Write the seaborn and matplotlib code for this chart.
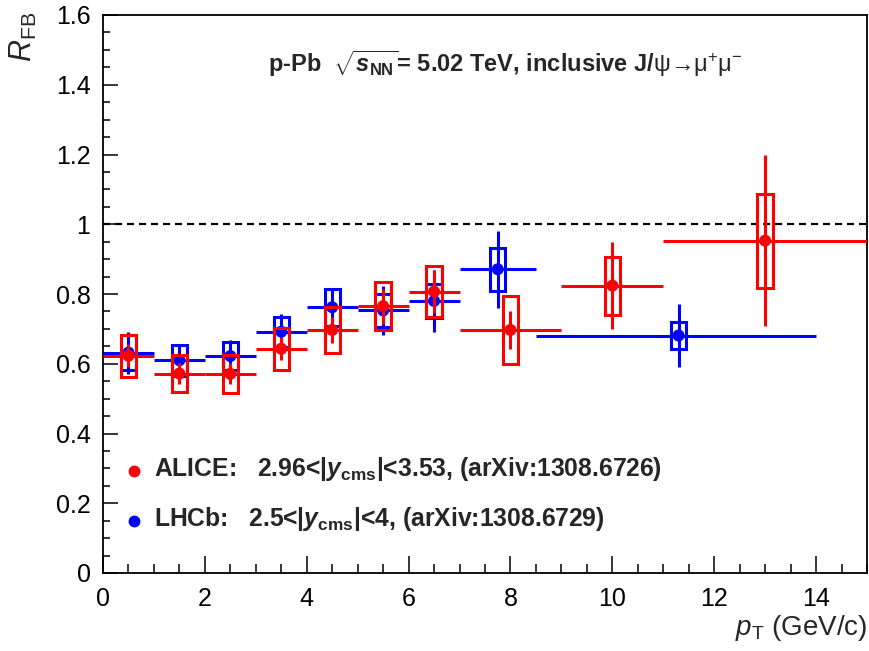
import numpy as np
import pandas as pd
import matplotlib
matplotlib.use("Agg")
import matplotlib.pyplot as plt
from matplotlib.patches import Rectangle
from matplotlib.lines import Line2D
from matplotlib.ticker import MultipleLocator
import seaborn as sns

# ALICE forward/backward ratio, 2.96<|y_cms|<3.53
alice_pt = [0.5, 1.5, 2.5, 3.5, 4.5, 5.5, 6.5, 8.0, 10.0, 13.0]
alice_lo = [0, 1, 2, 3, 4, 5, 6, 7, 9, 11]
alice_hi = [1, 2, 3, 4, 5, 6, 7, 9, 11, 15]
alice_rfb = [0.623, 0.572, 0.571, 0.643, 0.697, 0.765, 0.807, 0.697, 0.824, 0.953]
alice_stat = [0.033, 0.030, 0.030, 0.033, 0.037, 0.050, 0.062, 0.055, 0.124, 0.245]
alice_syst = [0.060, 0.054, 0.054, 0.060, 0.065, 0.068, 0.074, 0.097, 0.083, 0.135]

# LHCb forward/backward ratio, 2.5<|y_cms|<4
lhcb_pt = [0.5, 1.5, 2.5, 3.5, 4.5, 5.5, 6.5, 7.75, 11.3]
lhcb_lo = [0, 1, 2, 3, 4, 5, 6, 7, 8.5]
lhcb_hi = [1, 2, 3, 4, 5, 6, 7, 8.5, 14]
lhcb_rfb = [0.632, 0.610, 0.622, 0.692, 0.762, 0.753, 0.780, 0.871, 0.681]
lhcb_stat = [0.060, 0.040, 0.045, 0.050, 0.055, 0.070, 0.090, 0.110, 0.090]
lhcb_syst = [0.050, 0.045, 0.040, 0.043, 0.053, 0.047, 0.050, 0.061, 0.040]

x_ticks = [0, 2, 4, 6, 8, 10, 12, 14]
y_ticks = [0, 0.2, 0.4, 0.6, 0.8, 1.0, 1.2, 1.4, 1.6]
y_tick_labels = ["0", "0.2", "0.4", "0.6", "0.8", "1", "1.2", "1.4", "1.6"]

sns.set_theme(style="white")
plt.rcParams["font.family"] = ["Liberation Sans", "DejaVu Sans"]
plt.rcParams["mathtext.fontset"] = "custom"
plt.rcParams["mathtext.rm"] = "Liberation Sans"
plt.rcParams["mathtext.it"] = "Liberation Sans:italic"
plt.rcParams["mathtext.bf"] = "Liberation Sans:bold"
plt.rcParams["mathtext.bfit"] = "Liberation Sans:bold:italic"

fig = plt.figure(figsize=(8.69, 6.51), dpi=100)
ax = fig.add_axes([103 / 869, 1 - 573 / 651, 764 / 869, (573 - 15) / 651])

box_hw = 0.15


def draw_series(pt, lo, hi, val, stat, syst, color, z):
    pt = np.asarray(pt)
    val = np.asarray(val)
    xerr = [pt - np.asarray(lo), np.asarray(hi) - pt]
    ax.errorbar(pt, val, xerr=xerr, yerr=stat, fmt="none", ecolor=color,
                elinewidth=2.2, capsize=0, zorder=z)
    for x, y, s in zip(pt, val, syst):
        ax.add_patch(Rectangle((x - box_hw, y - s), 2 * box_hw, 2 * s,
                               fill=False, edgecolor=color, lw=2.2, zorder=z + 0.5))


draw_series(lhcb_pt, lhcb_lo, lhcb_hi, lhcb_rfb, lhcb_stat, lhcb_syst, "blue", 2)
draw_series(alice_pt, alice_lo, alice_hi, alice_rfb, alice_stat, alice_syst, "red", 4)

points = pd.concat([
    pd.DataFrame({"pt": lhcb_pt, "rfb": lhcb_rfb, "exp": "LHCb"}),
    pd.DataFrame({"pt": alice_pt, "rfb": alice_rfb, "exp": "ALICE"}),
])
for name, z in (("LHCb", 3), ("ALICE", 5)):
    sns.scatterplot(data=points[points["exp"] == name], x="pt", y="rfb",
                    color={"LHCb": "blue", "ALICE": "red"}[name], s=75,
                    edgecolor="none", ax=ax, zorder=z, legend=False)

ax.axhline(1.0, color="black", lw=1.6, ls=(0, (3.2, 2.2)), zorder=1)

ax.set_xlim(0, 15)
ax.set_ylim(0, 1.6)
ax.set_xticks(x_ticks)
ax.set_yticks(y_ticks)
ax.set_yticklabels(y_tick_labels)
ax.xaxis.set_minor_locator(MultipleLocator(0.5))
ax.yaxis.set_minor_locator(MultipleLocator(0.05))
ax.tick_params(axis="both", which="both", direction="in", colors="black",
               bottom=True, left=True, top=False, right=False)
ax.tick_params(axis="x", which="major", length=12, width=1.1, labelsize=18, pad=10)
ax.tick_params(axis="x", which="minor", length=6.5, width=1.1)
ax.tick_params(axis="y", which="major", length=11, width=1.1, labelsize=18, pad=9)
ax.tick_params(axis="y", which="minor", length=5, width=1.1)
for sp in ax.spines.values():
    sp.set_color("black")
    sp.set_linewidth(1.3)
ax.set_xlabel("")
ax.set_ylabel("")

fig.text(867 / 869, 1 - 613 / 651, r"$p_{\mathrm{T}}$ (GeV/c)", ha="right",
         va="top", fontsize=20)
fig.text(8 / 869, 1 - 12 / 651, r"$R_{\mathrm{FB}}$", ha="left", va="top",
         rotation=90, fontsize=22)

ax.text(0.527, 0.913,
        r"p-Pb  $\sqrt{\mathbfit{s}_{\mathbf{NN}}}$= 5.02 TeV, inclusive J/$\mathrm{\psi}$→$\mathrm{\mu^{+}\mu^{-}}$",
        transform=ax.transAxes, ha="center", va="center", fontsize=17,
        fontweight="bold")

handles = [
    Line2D([], [], marker="o", ls="", color="red", markersize=7.5),
    Line2D([], [], marker="o", ls="", color="blue", markersize=7.5),
]
labels = [
    r"ALICE:   2.96<|$\mathbfit{y}_{\mathbf{cms}}$|<3.53, (arXiv:1308.6726)",
    r"LHCb:   2.5<|$\mathbfit{y}_{\mathbf{cms}}$|<4, (arXiv:1308.6729)",
]
leg = ax.legend(handles, labels, loc="upper left", bbox_to_anchor=(0.025, 0.222),
                frameon=False, handlelength=0.8, handletextpad=0.9,
                labelspacing=1.45, borderaxespad=0)
for t in leg.get_texts():
    t.set_fontsize(17.8)
    t.set_fontweight("bold")

fig.savefig("out.png", dpi=100, facecolor="white")
